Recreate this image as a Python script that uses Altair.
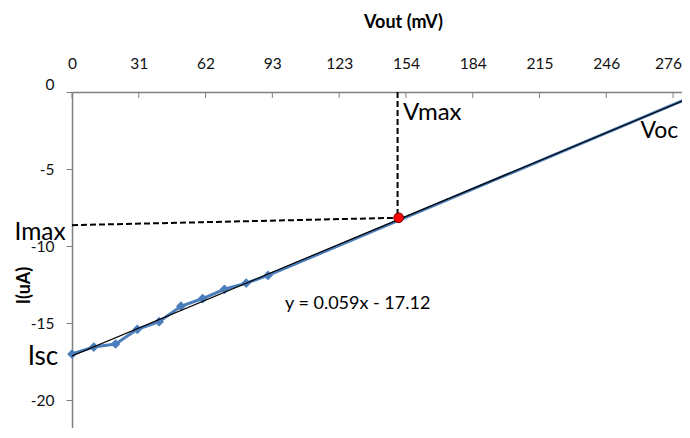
import altair as alt
import pandas as pd

# measured series
vout = [0, 10, 20, 30, 40, 50, 60, 70, 80, 90]
current = [-17.0, -16.55, -16.35, -15.4, -14.9, -13.9, -13.4, -12.8, -12.4, -11.9]
# continuation of the blue series (no markers)
ext_vout = [90, 284]
ext_current = [-11.9, -0.35]
# linear trend line y = 0.059x - 17.12
trend_slope = 0.059
trend_intercept = -17.12
trend_vout = [0, 290]
# max power point
vmax_v = [150]
imax_i = [-8.16]
# dashed guide lines
h_dash_vout = [0, 150]
h_dash_current = [-8.64, -8.16]
v_dash_vout = [149.5, 149.5]
v_dash_current = [0, -8.16]
# axes
x_tick_values = [0, 30.67, 61.33, 92, 122.67, 153.33, 184, 214.67, 245.33, 276]
x_tick_labels = ["0", "31", "62", "93", "123", "154", "184", "215", "246", "276"]
y_tick_values = [0, -5, -10, -15, -20]
# annotations
ann_left_text = ["Vmax", "Voc", "y = 0.059x - 17.12"]
ann_left_x = [152, 261, 97.8]
ann_left_y = [-1.82, -3.0, -14.05]
ann_left_size = [24, 23, 18]
ann_right_text = ["Imax", "Isc"]
ann_right_x = [-2.9, -6.3]
ann_right_y = [-9.58, -17.73]
ann_right_size = [24.5, 26]

FONT = "Lato"
BLUE = "#4A7EBB"
GRAY = "#7f7f7f"

xs = alt.Scale(domain=[0, 280.1], nice=False, zero=False)
ys = alt.Scale(domain=[-21.8, 0], nice=False, zero=False)

label_expr = "[" + ",".join("'%s'" % s for s in x_tick_labels) + "][indexof([" + \
    ",".join(str(v) for v in x_tick_values) + "], datum.value)]"

x_axis = alt.Axis(
    orient="top", values=x_tick_values, labelExpr=label_expr, ticks=False, tickSize=0,
    grid=False, domainColor=GRAY, domainWidth=1.5, labelFont=FONT, labelFontSize=15.5,
    labelColor="#111", labelPadding=21, labelAngle=0, labelFlush=False, labelOverlap=False,
    labelOffset={"condition": {"test": "datum.value === 276", "value": -5}, "value": 0},
    title="Vout (mV)", titleFont=FONT, titleFontSize=18, titleFontWeight="bold",
    titleColor="#000", titleX=331, titleY=-70, titleAlign="center", titleBaseline="middle",
)
y_axis = alt.Axis(
    orient="left", values=y_tick_values, tickSize=6, tickColor=GRAY, tickWidth=1,
    grid=False, domainColor=GRAY, domainWidth=1.5, labelFont=FONT, labelFontSize=15.5,
    labelColor="#111", labelPadding=12, labelFlush=False, labelExpr="'' + datum.value",
    labelOffset={"condition": {"test": "datum.value === 0", "value": -8}, "value": 0},
    title="I(uA)", titleFont=FONT, titleFontSize=18, titleFontWeight="bold",
    titleColor="#000", titleX=-48, titleY=193, titleAngle=270, titleAlign="center",
    titleBaseline="middle",
)


def X():
    return alt.X("x:Q", scale=xs, axis=x_axis)


def Y():
    return alt.Y("y:Q", scale=ys, axis=y_axis)


meas = pd.DataFrame({"x": vout, "y": current})
ext = pd.DataFrame({"x": ext_vout, "y": ext_current})
trend = pd.DataFrame({"x": trend_vout, "y": [trend_slope * v + trend_intercept for v in trend_vout]})
mpp = pd.DataFrame({"x": vmax_v, "y": imax_i})
hd = pd.DataFrame({"x": h_dash_vout, "y": h_dash_current})
vd = pd.DataFrame({"x": v_dash_vout, "y": v_dash_current})
ticks = pd.DataFrame({"x": x_tick_values})
al = pd.DataFrame({"t": ann_left_text, "x": ann_left_x, "y": ann_left_y, "s": ann_left_size})
ar = pd.DataFrame({"t": ann_right_text, "x": ann_right_x, "y": ann_right_y, "s": ann_right_size})

tick_layer = alt.Chart(ticks).mark_rule(color=GRAY, strokeWidth=1).encode(
    x=X(), y=alt.value(0), y2=alt.value(6))

blue_line = alt.Chart(meas).mark_line(color=BLUE, strokeWidth=3).encode(x=X(), y=Y())
blue_pts = alt.Chart(meas).mark_point(shape="diamond", filled=True, color=BLUE, size=95, opacity=1).encode(x=X(), y=Y())
blue_ext = alt.Chart(ext).mark_line(color=BLUE, strokeWidth=3, clip=True).encode(x=X(), y=Y())
trend_line = alt.Chart(trend).mark_line(color="#000", strokeWidth=1.2, clip=True).encode(x=X(), y=Y())
hdash = alt.Chart(hd).mark_line(color="#000", strokeWidth=2, strokeDash=[6, 3]).encode(x=X(), y=Y())
vdash = alt.Chart(vd).mark_line(color="#000", strokeWidth=2, strokeDash=[6, 3]).encode(x=X(), y=Y())
red = alt.Chart(mpp).mark_point(shape="circle", filled=True, color="#FF0000", stroke="#600",
                                strokeWidth=1, size=95, opacity=1).encode(x=X(), y=Y())
txt_l = alt.Chart(al).mark_text(align="left", baseline="alphabetic", font=FONT, color="#000").encode(
    x=X(), y=Y(), text="t:N", size=alt.Size("s:Q", scale=None, legend=None))
txt_r = alt.Chart(ar).mark_text(align="right", baseline="alphabetic", font=FONT, color="#000").encode(
    x=X(), y=Y(), text="t:N", size=alt.Size("s:Q", scale=None, legend=None))

chart = alt.layer(
    tick_layer, blue_line, blue_ext, blue_pts, trend_line, hdash, vdash, red, txt_l, txt_r
).properties(
    width=610, height=336,
    autosize=alt.AutoSizeParams(type="none"),
    padding={"left": 64, "top": 84, "right": 0, "bottom": 0},
    background="white",
).configure_view(stroke=None)

chart.save("out.html", embed_options={"renderer": "svg", "actions": False})
